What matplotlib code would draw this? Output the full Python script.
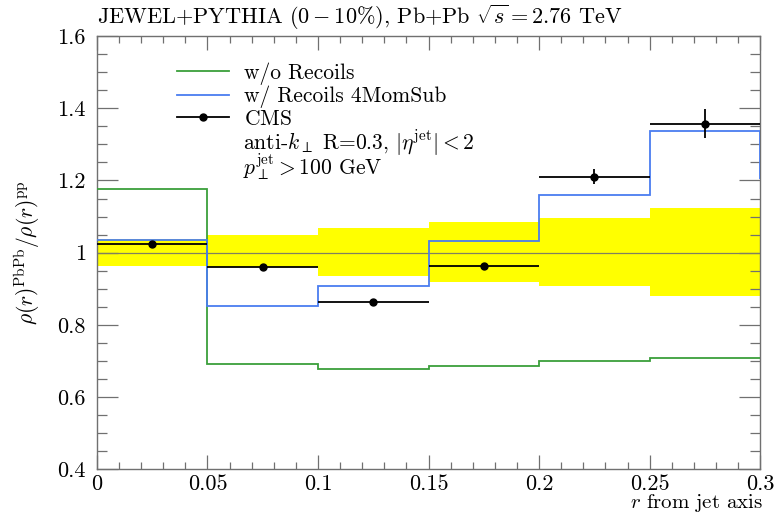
import numpy as np
import matplotlib
matplotlib.use("Agg")
import matplotlib.pyplot as plt
from matplotlib.ticker import MultipleLocator, FormatStrFormatter
from matplotlib.lines import Line2D

plt.rcParams['font.family'] = 'serif'
plt.rcParams['font.serif'] = ['cmr10', 'DejaVu Serif']
plt.rcParams['mathtext.fontset'] = 'cm'
plt.rcParams['axes.formatter.use_mathtext'] = True
plt.rcParams['axes.unicode_minus'] = False

# bin edges in r
edges = np.array([0.0, 0.05, 0.1, 0.15, 0.2, 0.25, 0.3])
centers = 0.5 * (edges[1:] + edges[:-1])

# JEWEL w/o recoils
no_recoil = np.array([1.176, 0.691, 0.676, 0.687, 0.699, 0.707])
# JEWEL w/ recoils, 4MomSub
recoil_4mom = np.array([1.036, 0.851, 0.908, 1.031, 1.161, 1.338])
recoil_end_low = 1.204

# CMS data
cms_val = np.array([1.023, 0.960, 0.863, 0.962, 1.210, 1.357])
cms_err = np.array([0.006, 0.006, 0.006, 0.010, 0.021, 0.040])

# CMS systematic band around 1
band_hi = np.array([1.037, 1.048, 1.067, 1.086, 1.096, 1.123])
band_lo = np.array([0.963, 0.961, 0.934, 0.918, 0.907, 0.881])

green = '#3a9f3a'
blue = '#4a7df0'
frame = '#707070'
fs = 15.5

fig = plt.figure(figsize=(7.75, 5.14), dpi=100)
ax = fig.add_axes([0.125, 0.0875, 0.856, 0.842])

ax.stairs(band_hi, edges, baseline=band_lo, fill=True, color='yellow', lw=0, zorder=1)
ax.axhline(1.0, color='#808060', lw=0.9, zorder=2)

ax.stairs(no_recoil, edges, baseline=None, color=green, lw=1.3, zorder=3)
ax.stairs(recoil_4mom, edges, baseline=None, color=blue, lw=1.3, zorder=4)
ax.vlines(edges[-1], recoil_end_low, recoil_4mom[-1], color=blue, lw=1.3, zorder=4)

ax.errorbar(centers, cms_val, xerr=0.5 * np.diff(edges), yerr=cms_err,
            fmt='o', color='black', ms=5, lw=1.3, capsize=0, zorder=5)

ax.set_xlim(0, 0.3)
ax.set_ylim(0.4, 1.6)
ax.xaxis.set_major_locator(MultipleLocator(0.05))
ax.xaxis.set_minor_locator(MultipleLocator(0.01))
ax.yaxis.set_major_locator(MultipleLocator(0.2))
ax.yaxis.set_minor_locator(MultipleLocator(0.05))
ax.xaxis.set_major_formatter(FormatStrFormatter('%g'))
ax.yaxis.set_major_formatter(FormatStrFormatter('%g'))

ax.tick_params(which='both', direction='in', top=True, right=True,
               color=frame, labelsize=16, width=0.9)
ax.tick_params(axis='x', which='major', length=10, pad=4)
ax.tick_params(axis='x', which='minor', length=5)
ax.tick_params(axis='y', which='major', length=15, pad=8)
ax.tick_params(axis='y', which='minor', length=7)
for s in ax.spines.values():
    s.set_color(frame)
    s.set_linewidth(1.0)

ax.set_xlabel(r'$r$ from jet axis', fontsize=15, loc='right')
ax.xaxis.set_label_coords(1.004, -0.053)
ax.set_ylabel(r'$\rho(r)^{\rm PbPb}/\rho(r)^{\rm pp}$', fontsize=fs, labelpad=11)
ax.set_title(r'JEWEL+PYTHIA $(0-10\%)$, Pb+Pb $\sqrt{s}=2.76$ TeV',
             fontsize=fs + 0.5, loc='left', pad=9)

handles = [
    Line2D([], [], color=green, lw=1.3),
    Line2D([], [], color=blue, lw=1.3),
    Line2D([], [], color='black', lw=1.3, marker='o', ms=5),
]
labels = ['w/o Recoils', 'w/ Recoils 4MomSub', r'$\rm CMS$']
ax.legend(handles, labels, loc='upper left', bbox_to_anchor=(0.121, 0.94),
          frameon=False, fontsize=fs, handlelength=2.4, handletextpad=0.7,
          labelspacing=0.05, borderaxespad=0, borderpad=0)
ax.text(0.22, 0.753, r'anti-$k_\perp$ R=0.3, $|\eta^{\rm jet}|<2$',
        transform=ax.transAxes, fontsize=fs, va='center')
ax.text(0.22, 0.698, r'$p_\perp^{\rm jet}>100$ GeV',
        transform=ax.transAxes, fontsize=fs, va='center')

fig.savefig('out.png', dpi=100)
